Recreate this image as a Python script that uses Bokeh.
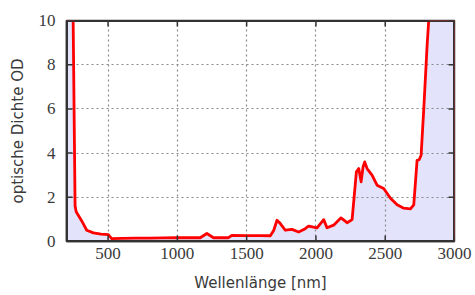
from bokeh.plotting import figure
from bokeh.models import FixedTicker, Range1d
from bokeh.embed import file_html
from bokeh.resources import INLINE

# Data
wavelength = [200, 248, 262, 270, 286, 310, 346, 394, 450, 502, 526, 600, 700, 800,
              900, 996, 1100, 1165, 1213, 1261, 1369, 1393, 1500, 1600, 1671, 1695,
              1719, 1743, 1779, 1827, 1875, 1923, 1947, 2008, 2056, 2080, 2128, 2181,
              2225, 2261, 2292, 2309, 2326, 2340, 2352, 2369, 2405, 2441, 2489, 2538,
              2586, 2634, 2682, 2706, 2730, 2745, 2759, 2778, 2803, 2814, 2900, 3000]
optical_density = [10, 10, 1.6, 1.35, 1.18, 0.93, 0.51, 0.39, 0.33, 0.31, 0.13, 0.14, 0.15, 0.15,
                   0.16, 0.17, 0.17, 0.17, 0.36, 0.17, 0.17, 0.28, 0.27, 0.27, 0.26, 0.5,
                   0.96, 0.81, 0.51, 0.55, 0.43, 0.58, 0.7, 0.62, 0.99, 0.62, 0.74, 1.07,
                   0.85, 0.99, 3.15, 3.3, 2.7, 3.37, 3.6, 3.3, 3.0, 2.55, 2.4, 1.96,
                   1.66, 1.51, 1.48, 1.66, 3.67, 3.7, 3.9, 5.97, 8.94, 10, 10, 10]

x_min, x_max = 200, 3000
y_min, y_max = 0, 10
x_ticks = [500, 1000, 1500, 2000, 2500, 3000]
y_ticks = [0, 2, 4, 6, 8, 10]
x_label = "Wellenlänge [nm]"
y_label = "optische Dichte OD"

FRAME_W, FRAME_H = 388, 223
TICK_PX = 6

p = figure(width=474, height=294, output_backend="svg", toolbar_location=None,
           x_range=Range1d(x_min, x_max), y_range=Range1d(y_min, y_max),
           min_border_left=66, min_border_right=20, min_border_top=20, min_border_bottom=51,
           x_axis_label=x_label, y_axis_label=y_label)
frame_col = "#333333"
p.outline_line_color = frame_col
p.outline_line_width = 1.5
p.border_fill_color = None
p.background_fill_color = None

# filled area with its closed outline
px = wavelength + [wavelength[-1], wavelength[0]]
py = optical_density + [0, 0]
p.patch(px, py, fill_color="#e3e3fc", line_color=None, level="image")
p.patch(px, py, fill_color=None, line_color="#ff0000", line_width=2.8, line_join="round")

# frame box drawn as a closed outline
p.patch([x_min, x_max, x_max, x_min], [y_min, y_min, y_max, y_max],
        fill_color=None, line_color=frame_col, line_width=3)

# inward ticks on all four sides
dx = (x_max - x_min) * TICK_PX / FRAME_W
dy = (y_max - y_min) * TICK_PX / FRAME_H
tick_xs, tick_ys = [], []
for t in x_ticks:
    tick_xs += [[t, t], [t, t]]
    tick_ys += [[y_min, y_min + dy], [y_max, y_max - dy]]
for t in y_ticks:
    tick_xs += [[x_min, x_min + dx], [x_max, x_max - dx]]
    tick_ys += [[t, t], [t, t]]
p.multi_line(tick_xs, tick_ys, line_color=frame_col, line_width=1.5)

tick_font = "Liberation Serif"
label_font = "DejaVu Sans"

for ax in (p.xaxis[0], p.yaxis[0]):
    ax.major_tick_in = 0
    ax.major_tick_out = 0
    ax.minor_tick_line_color = None
    ax.axis_line_color = frame_col
    ax.axis_line_width = 1.5
    ax.major_tick_line_color = None
    ax.major_label_text_font = tick_font
    ax.major_label_text_font_size = "17px"
    ax.major_label_text_color = "#3a3a3a"
    ax.axis_label_text_font = label_font
    ax.axis_label_text_font_size = "15px"
    ax.axis_label_text_font_style = "normal"
    ax.axis_label_text_color = "#3a3a3a"

p.xaxis[0].ticker = FixedTicker(ticks=x_ticks)
p.yaxis[0].ticker = FixedTicker(ticks=y_ticks)
p.xaxis[0].major_label_standoff = 6
p.xaxis[0].axis_label_standoff = 12
p.yaxis[0].major_label_standoff = 11
p.yaxis[0].axis_label_standoff = 9

for g, t in ((p.xgrid[0], x_ticks), (p.ygrid[0], y_ticks)):
    g.ticker = FixedTicker(ticks=t)
    g.grid_line_color = "#8a8a8a"
    g.grid_line_dash = "2 3"
    g.grid_line_width = 1.2

open("out.html", "w").write(file_html(p, INLINE))
